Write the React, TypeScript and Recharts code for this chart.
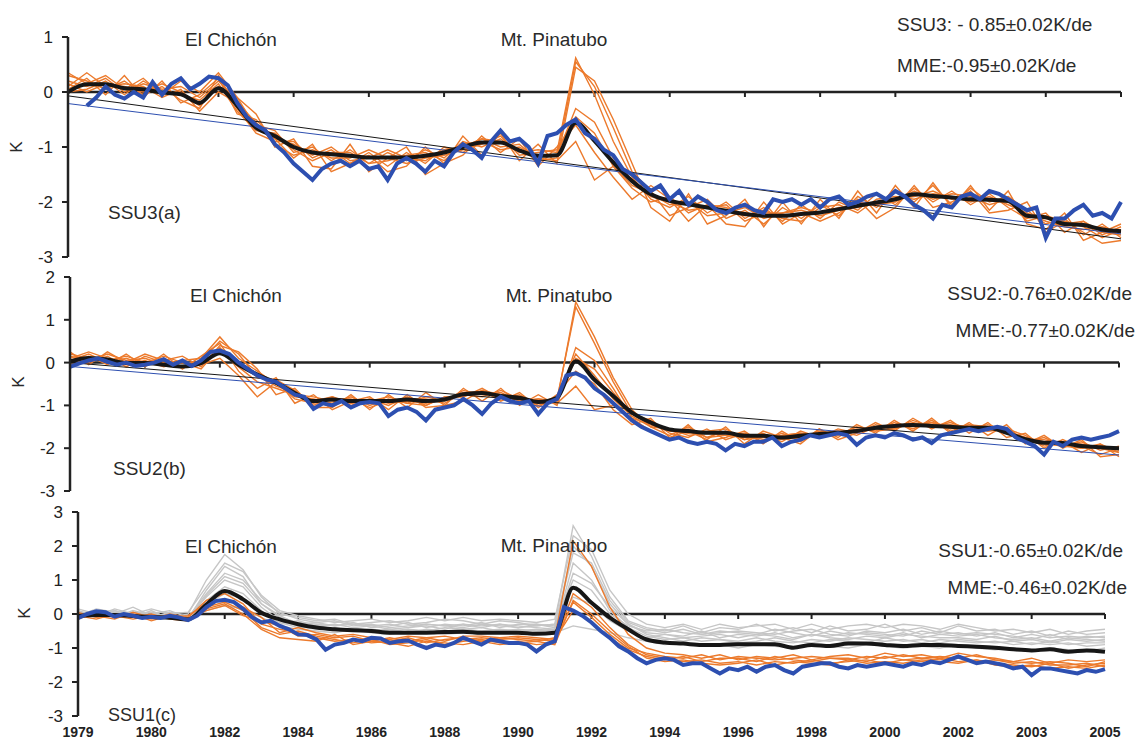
import { LineChart, Line, XAxis, YAxis, ReferenceLine } from "recharts";

// x runs over the 15 category slots of the original axis.
// Model runs / MME are read every quarter slot, observations every eighth of a slot.
const xTicks = [0, 1, 2, 3, 4, 5, 6, 7, 8, 9, 10, 11, 12, 13, 14];
const yearLabels = ["1979", "1980", "1982", "1984", "1986", "1988", "1990", "1992", "1994", "1996", "1998", "2000", "2002", "2003", "2005"];

// ---- SSU3 (a)
const ssu3Mme = [
  0.0, 0.14, 0.14, 0.07, 0.05, -0.01, -0.04, -0.2, 0.07, -0.25, -0.65, -0.8,
  -1.0, -1.1, -1.13, -1.16, -1.19, -1.19, -1.19, -1.16, -1.1, -1.0, -0.92, -0.92,
  -1.06, -1.16, -1.15, -0.56, -0.89, -1.28, -1.62, -1.86, -1.98, -2.04, -2.1, -2.16,
  -2.22, -2.25, -2.25, -2.22, -2.19, -2.13, -2.07, -2.01, -1.95, -1.86, -1.89, -1.92,
  -1.95, -1.96, -1.98, -2.25, -2.28, -2.4, -2.42, -2.5, -2.53,
];
const ssu3Obs = [
  null, null, -0.25, -0.1, 0.1, -0.05, -0.12, 0.0,
  -0.1, 0.18, -0.05, 0.15, 0.25, 0.05, 0.15, 0.28,
  0.25, 0.12, -0.2, -0.45, -0.6, -0.7, -0.95, -1.1,
  -1.3, -1.45, -1.6, -1.4, -1.3, -1.25, -1.35, -1.25,
  -1.4, -1.35, -1.6, -1.3, -1.2, -1.3, -1.45, -1.25,
  -1.35, -1.1, -0.95, -1.05, -1.2, -0.9, -0.7, -0.9,
  -0.85, -1.0, -1.3, -0.8, -0.75, -0.6, -0.5, -0.75,
  -0.85, -1.05, -1.15, -1.4, -1.5, -1.65, -1.8, -1.7,
  -1.95, -1.8, -2.05, -1.9, -2.0, -2.15, -2.2, -2.1,
  -2.05, -2.15, -2.2, -1.95, -2.0, -1.95, -2.05, -1.95,
  -2.1, -1.95, -1.9, -2.05, -2.0, -1.9, -1.85, -1.95,
  -1.8, -1.9, -2.05, -2.15, -2.3, -2.05, -2.1, -1.9,
  -1.85, -1.95, -1.8, -1.85, -1.95, -2.05, -2.15, -2.1,
  -2.65, -2.3, -2.3, -2.15, -2.05, -2.25, -2.2, -2.3,
  -2.0,
];
const ssu3Run1 = [
  0.2, 0.1, 0.25, 0.0, 0.15, 0.05, 0.1, -0.1, 0.2, -0.15, -0.6, -0.7,
  -1.1, -1.0, -1.25, -1.05, -1.3, -1.1, -1.25, -1.05, -1.2, -0.9, -1.0, -0.85,
  -1.1, -1.05, -1.1, 0.62, -0.05, -0.9, -1.55, -1.95, -2.1, -1.9, -2.2, -2.0,
  -2.3, -2.1, -2.35, -2.05, -2.3, -2.0, -2.15, -1.85, -2.05, -1.75, -2.0, -1.8,
  -2.05, -1.85, -2.1, -2.3, -2.2, -2.55, -2.35, -2.6, -2.45,
];
const ssu3Run2 = [
  0.3, 0.2, 0.05, 0.2, -0.05, 0.1, -0.15, -0.3, 0.3, -0.3, -0.75, -0.9,
  -0.9, -1.2, -1.05, -1.3, -1.1, -1.35, -1.1, -1.3, -1.0, -1.1, -0.85, -1.0,
  -0.95, -1.25, -1.2, 0.55, 0.1, -0.65, -1.45, -1.8, -2.25, -2.1, -1.95, -2.3,
  -2.15, -2.4, -2.1, -2.3, -2.05, -2.25, -1.9, -2.1, -1.8, -2.0, -1.7, -2.05,
  -1.75, -2.0, -1.9, -2.15, -2.4, -2.3, -2.6, -2.4, -2.65,
];
const ssu3Run3 = [
  0.1, 0.35, 0.1, 0.15, 0.1, -0.1, 0.05, -0.35, 0.0, -0.2, -0.55, -0.95,
  -1.15, -1.05, -1.2, -1.2, -1.05, -1.2, -1.3, -1.2, -1.15, -1.05, -0.95, -0.8,
  -1.15, -1.1, -1.05, -0.45, -0.75, -1.35, -1.75, -2.0, -1.9, -2.2, -2.05, -2.1,
  -2.25, -2.15, -2.3, -2.35, -2.1, -2.05, -2.2, -1.95, -1.9, -1.95, -1.85, -1.9,
  -2.0, -1.9, -2.05, -2.2, -2.35, -2.45, -2.5, -2.45, -2.55,
];
const ssu3Run4 = [
  0.0, 0.05, 0.2, -0.05, 0.2, 0.0, -0.05, -0.15, 0.15, -0.35, -0.7, -0.75,
  -1.05, -1.25, -1.1, -1.1, -1.3, -1.25, -1.15, -1.1, -1.25, -0.95, -0.9, -1.05,
  -1.0, -1.2, -1.25, -0.9, -1.6, -1.35, -1.7, -1.85, -2.05, -2.0, -2.25, -2.2,
  -2.1, -2.3, -2.2, -2.15, -2.25, -2.15, -2.0, -2.05, -2.0, -1.8, -1.95, -1.85,
  -1.9, -2.05, -1.95, -2.35, -2.25, -2.35, -2.45, -2.65, -2.5,
];
const ssu3Run5 = [
  0.15, 0.0, 0.15, 0.1, 0.0, 0.15, 0.0, -0.25, 0.1, -0.1, -0.65, -0.85,
  -0.95, -1.15, -1.0, -1.25, -1.2, -1.05, -1.2, -1.25, -1.05, -1.0, -0.85, -0.9,
  -1.05, -1.15, -1.15, -0.3, -0.55, -1.2, -1.6, -1.9, -2.0, -2.15, -2.1, -2.05,
  -2.35, -2.2, -2.2, -2.1, -2.2, -2.1, -2.1, -2.0, -1.95, -1.9, -1.8, -1.95,
  -1.85, -1.95, -2.0, -2.25, -2.3, -2.4, -2.35, -2.55, -2.6,
];
const ssu3Run6 = [
  0.35, 0.15, 0.3, 0.05, 0.25, -0.05, 0.2, 0.0, 0.35, -0.1, -0.4, -1.0,
  -0.85, -1.35, -1.4, -0.95, -1.45, -1.2, -1.0, -1.5, -1.3, -0.8, -1.15, -0.75,
  -1.25, -0.95, -1.3, 0.45, 0.2, -0.5, -1.3, -2.1, -2.35, -1.85, -2.4, -2.25,
  -1.95, -2.45, -2.0, -2.4, -1.95, -2.3, -1.8, -2.2, -1.7, -2.1, -1.65, -2.1,
  -1.7, -2.15, -1.8, -2.4, -2.5, -2.2, -2.7, -2.55, -2.4,
];
const ssu3Run7 = [
  0.05, 0.25, -0.05, 0.3, -0.1, 0.2, -0.2, -0.05, 0.25, -0.4, -0.5, -0.85,
  -1.2, -0.95, -1.45, -1.3, -1.15, -1.45, -1.35, -1.0, -1.3, -1.15, -0.8, -1.1,
  -0.85, -1.35, -1.0, -0.6, -1.1, -1.55, -1.95, -1.7, -1.95, -2.35, -2.05, -2.4,
  -2.45, -2.0, -2.4, -2.2, -2.35, -2.2, -1.95, -2.3, -2.1, -1.7, -2.1, -2.0,
  -1.8, -2.2, -2.15, -2.0, -2.55, -2.35, -2.55, -2.75, -2.7,
];
const ssu3TrendMme = [-0.07, -2.67];
const ssu3TrendObs = [-0.21, -2.58];

// ---- SSU2 (b)
const ssu2Mme = [
  0.03, 0.11, 0.07, -0.01, -0.01, -0.05, -0.09, -0.01, 0.22, -0.05, -0.28, -0.47,
  -0.71, -0.9, -0.86, -0.9, -0.9, -0.9, -0.86, -0.9, -0.86, -0.74, -0.71, -0.78,
  -0.82, -0.92, -0.82, 0.03, -0.4, -0.78, -1.17, -1.4, -1.56, -1.6, -1.64, -1.64,
  -1.71, -1.71, -1.75, -1.71, -1.67, -1.64, -1.6, -1.52, -1.48, -1.46, -1.48, -1.5,
  -1.52, -1.52, -1.64, -1.79, -1.87, -1.88, -1.95, -1.98, -2.0,
];
const ssu2Obs = [
  -0.1, -0.02, 0.05, 0.1, 0.02, -0.05, 0.0, -0.08,
  -0.05, 0.0, 0.08, -0.05, 0.05, -0.08, 0.05, 0.25,
  0.28, 0.2, 0.0, -0.15, -0.3, -0.4, -0.45, -0.6,
  -0.75, -0.8, -1.08, -0.95, -1.0, -0.9, -1.05, -0.95,
  -0.92, -0.95, -1.25, -1.1, -1.05, -1.15, -1.35, -1.1,
  -1.05, -1.0, -0.85, -1.0, -1.2, -0.95, -0.8, -0.9,
  -0.95, -0.9, -1.2, -0.95, -0.85, -0.3, -0.25, -0.35,
  -0.6, -0.75, -0.95, -1.15, -1.35, -1.5, -1.6, -1.7,
  -1.8, -1.75, -1.85, -1.9, -1.85, -1.9, -2.05, -1.9,
  -1.95, -1.85, -1.85, -1.75, -1.95, -1.85, -1.8, -1.7,
  -1.75, -1.7, -1.65, -1.7, -1.92, -1.75, -1.7, -1.75,
  -1.65, -1.7, -1.8, -1.75, -1.88, -1.7, -1.65, -1.6,
  -1.55, -1.6, -1.55, -1.5, -1.55, -1.75, -1.85, -1.95,
  -2.15, -1.85, -1.95, -1.8, -1.75, -1.8, -1.75, -1.7,
  -1.6,
];
const ssu2Run1 = [
  0.15, 0.05, 0.2, 0.05, 0.1, -0.05, 0.05, 0.1, 0.6, 0.1, -0.2, -0.5,
  -0.8, -0.85, -0.95, -0.8, -1.0, -0.85, -0.95, -0.8, -0.9, -0.65, -0.75, -0.7,
  -0.9, -0.85, -0.9, 1.42, 0.6, -0.35, -1.1, -1.5, -1.7, -1.5, -1.75, -1.6,
  -1.8, -1.65, -1.85, -1.6, -1.75, -1.55, -1.65, -1.45, -1.55, -1.35, -1.5, -1.4,
  -1.55, -1.45, -1.6, -1.85, -1.75, -1.95, -1.85, -2.05, -1.95,
];
const ssu2Run2 = [
  0.05, 0.2, 0.0, 0.1, -0.05, 0.1, -0.1, 0.05, 0.5, 0.2, -0.35, -0.4,
  -0.65, -1.0, -0.8, -1.0, -0.85, -1.0, -0.8, -1.0, -0.8, -0.8, -0.6, -0.85,
  -0.75, -1.0, -0.85, 1.3, 0.45, -0.45, -1.2, -1.35, -1.65, -1.75, -1.55, -1.8,
  -1.65, -1.85, -1.65, -1.8, -1.6, -1.7, -1.5, -1.6, -1.4, -1.55, -1.35, -1.6,
  -1.45, -1.6, -1.55, -1.7, -1.95, -1.85, -2.1, -1.9, -2.1,
];
const ssu2Run3 = [
  0.1, 0.25, 0.1, -0.05, 0.05, -0.1, 0.0, -0.15, 0.35, -0.1, -0.45, -0.6,
  -0.75, -0.8, -0.9, -0.95, -0.85, -0.95, -0.9, -0.95, -0.85, -0.75, -0.8, -0.65,
  -0.85, -0.95, -0.8, 0.2, -0.3, -0.85, -1.25, -1.5, -1.55, -1.7, -1.65, -1.7,
  -1.75, -1.7, -1.8, -1.75, -1.65, -1.6, -1.7, -1.5, -1.45, -1.5, -1.4, -1.5,
  -1.55, -1.5, -1.65, -1.75, -1.9, -1.95, -2.0, -1.95, -2.05,
];
const ssu2Run4 = [
  -0.05, 0.0, 0.15, -0.1, 0.15, 0.0, -0.1, -0.05, 0.1, -0.3, -0.8, -0.45,
  -0.85, -0.95, -0.85, -0.85, -1.05, -0.9, -0.85, -0.85, -0.95, -0.7, -0.7, -0.8,
  -0.8, -0.9, -0.95, -0.55, -1.1, -1.0, -1.3, -1.45, -1.6, -1.55, -1.75, -1.7,
  -1.65, -1.8, -1.7, -1.65, -1.75, -1.65, -1.55, -1.6, -1.55, -1.4, -1.5, -1.45,
  -1.5, -1.6, -1.55, -1.8, -1.8, -1.9, -1.95, -2.15, -2.0,
];
const ssu2Run5 = [
  0.2, 0.1, 0.05, 0.15, 0.0, 0.15, 0.0, 0.0, 0.25, 0.0, -0.3, -0.55,
  -0.7, -0.9, -0.8, -0.95, -0.9, -0.8, -0.95, -1.0, -0.8, -0.8, -0.65, -0.75,
  -0.9, -0.85, -0.9, 0.1, -0.15, -0.7, -1.2, -1.45, -1.6, -1.65, -1.6, -1.55,
  -1.8, -1.75, -1.7, -1.65, -1.7, -1.6, -1.6, -1.55, -1.5, -1.45, -1.4, -1.55,
  -1.45, -1.5, -1.6, -1.75, -1.85, -1.9, -1.9, -2.0, -2.1,
];
const ssu2Run6 = [
  0.25, -0.05, 0.25, 0.0, 0.2, 0.05, 0.15, -0.1, 0.4, 0.25, -0.15, -0.75,
  -0.6, -1.05, -1.05, -0.75, -1.1, -0.75, -1.05, -0.7, -1.0, -0.6, -0.9, -0.6,
  -1.0, -0.75, -1.0, 0.35, 0.05, -0.6, -1.3, -1.6, -1.8, -1.45, -1.85, -1.75,
  -1.6, -1.9, -1.6, -1.85, -1.55, -1.75, -1.45, -1.65, -1.35, -1.6, -1.3, -1.65,
  -1.4, -1.7, -1.45, -1.9, -1.7, -2.0, -1.8, -2.2, -2.15,
];
const ssu2Run7 = [
  -0.1, 0.15, -0.05, 0.2, -0.1, 0.2, -0.15, 0.15, 0.45, -0.2, -0.6, -0.35,
  -0.95, -0.75, -1.1, -0.9, -0.8, -1.1, -0.75, -1.05, -1.0, -0.9, -0.65, -0.9,
  -0.7, -1.05, -0.75, -0.2, -0.5, -1.1, -1.45, -1.3, -1.75, -1.6, -1.8, -1.5,
  -1.9, -1.6, -1.75, -1.9, -1.55, -1.8, -1.65, -1.4, -1.6, -1.3, -1.55, -1.35,
  -1.65, -1.4, -1.75, -1.65, -2.0, -1.8, -2.0, -1.9, -2.2,
];
const ssu2TrendMme = [0.0, -2.02];
const ssu2TrendObs = [-0.09, -2.16];

// ---- SSU1 (c)
const ssu1Mme = [
  -0.06, -0.03, -0.03, -0.06, -0.09, -0.11, -0.16, 0.28, 0.68, 0.43, 0.04, -0.16,
  -0.3, -0.4, -0.45, -0.48, -0.5, -0.55, -0.55, -0.55, -0.53, -0.52, -0.55, -0.55,
  -0.55, -0.58, -0.55, 0.77, 0.33, -0.11, -0.45, -0.75, -0.84, -0.87, -0.91, -0.91,
  -0.89, -0.89, -0.89, -0.99, -0.91, -0.94, -0.87, -0.87, -0.91, -0.94, -0.91, -0.91,
  -0.94, -0.96, -0.99, -1.04, -1.07, -1.04, -1.11, -1.07, -1.11,
];
const ssu1Obs = [
  -0.12, 0.0, 0.08, 0.05, -0.08, 0.0, -0.05, -0.12,
  -0.08, -0.12, -0.05, -0.1, -0.18, -0.05, 0.2, 0.38,
  0.42, 0.35, 0.15, -0.1, -0.25, -0.2, -0.35, -0.45,
  -0.6, -0.62, -0.75, -1.05, -0.9, -0.85, -0.75, -0.8,
  -0.7, -0.72, -0.85, -0.8, -0.78, -0.9, -1.0, -0.9,
  -0.95, -0.85, -0.7, -0.8, -0.9, -0.75, -0.8, -0.85,
  -0.85, -0.9, -1.1, -0.9, -0.8, 0.2, 0.1, -0.05,
  -0.25, -0.5, -0.7, -0.95, -1.1, -1.3, -1.45, -1.35,
  -1.3, -1.35, -1.5, -1.45, -1.45, -1.6, -1.75, -1.6,
  -1.65, -1.55, -1.7, -1.55, -1.5, -1.65, -1.75, -1.55,
  -1.5, -1.45, -1.45, -1.55, -1.6, -1.5, -1.55, -1.5,
  -1.45, -1.5, -1.55, -1.45, -1.5, -1.4, -1.45, -1.35,
  -1.25, -1.35, -1.45, -1.4, -1.45, -1.5, -1.6, -1.55,
  -1.8, -1.6, -1.6, -1.65, -1.7, -1.75, -1.65, -1.7,
  -1.62,
];
const ssu1Run1 = [
  -0.15, 0.05, -0.1, -0.05, -0.15, 0.0, -0.1, 0.4, 0.6, 0.3, -0.3, -0.45,
  -0.55, -0.7, -0.8, -0.75, -0.85, -0.8, -0.7, -0.85, -0.75, -0.7, -0.8, -0.7,
  -0.75, -0.8, -0.7, 2.15, 1.4, 0.2, -0.6, -1.0, -1.15, -1.2, -1.3, -1.2,
  -1.35, -1.25, -1.3, -1.2, -1.35, -1.25, -1.2, -1.3, -1.15, -1.25, -1.2, -1.3,
  -1.15, -1.25, -1.3, -1.4, -1.3, -1.45, -1.35, -1.4, -1.35,
];
const ssu1Run2 = [
  -0.05, -0.15, 0.0, -0.1, 0.0, -0.15, -0.2, 0.2, 0.35, 0.1, -0.4, -0.6,
  -0.5, -0.65, -0.75, -0.85, -0.75, -0.9, -0.85, -0.75, -0.9, -0.8, -0.75, -0.85,
  -0.8, -0.9, -0.85, 0.6, 0.2, -0.4, -0.9, -1.2, -1.3, -1.4, -1.35, -1.45,
  -1.4, -1.5, -1.4, -1.45, -1.35, -1.45, -1.4, -1.35, -1.45, -1.35, -1.4, -1.3,
  -1.4, -1.35, -1.45, -1.5, -1.55, -1.45, -1.6, -1.5, -1.45,
];
const ssu1Run3 = [
  0.0, -0.05, -0.15, 0.05, -0.1, -0.05, -0.15, 0.1, 0.25, -0.05, -0.2, -0.35,
  -0.65, -0.6, -0.7, -0.65, -0.8, -0.7, -0.8, -0.7, -0.65, -0.75, -0.7, -0.75,
  -0.7, -0.75, -0.8, 0.35, -0.1, -0.6, -1.0, -1.15, -1.25, -1.3, -1.2, -1.35,
  -1.25, -1.3, -1.35, -1.3, -1.25, -1.3, -1.35, -1.25, -1.3, -1.2, -1.3, -1.25,
  -1.3, -1.2, -1.35, -1.4, -1.45, -1.4, -1.45, -1.55, -1.4,
];
const ssu1Run4 = [
  -0.1, 0.0, -0.05, -0.15, -0.05, -0.1, -0.05, 0.3, 0.45, 0.2, -0.1, -0.55,
  -0.4, -0.55, -0.65, -0.6, -0.7, -0.75, -0.65, -0.7, -0.8, -0.65, -0.65, -0.7,
  -0.65, -0.7, -0.75, 0.1, -0.25, -0.7, -1.05, -1.25, -1.35, -1.25, -1.4, -1.3,
  -1.3, -1.4, -1.25, -1.35, -1.4, -1.3, -1.3, -1.4, -1.25, -1.35, -1.3, -1.35,
  -1.25, -1.4, -1.35, -1.45, -1.4, -1.5, -1.5, -1.45, -1.55,
];
const ssu1Run5 = [
  0.05, -0.1, -0.05, 0.0, -0.2, -0.05, -0.15, 0.15, 0.3, 0.0, -0.45, -0.7,
  -0.75, -0.8, -0.6, -0.9, -0.8, -0.85, -0.95, -0.8, -0.85, -0.9, -0.8, -0.9,
  -0.85, -0.8, -0.9, 0.4, 0.0, -0.5, -0.95, -1.3, -1.4, -1.35, -1.45, -1.5,
  -1.45, -1.35, -1.5, -1.4, -1.45, -1.5, -1.35, -1.45, -1.4, -1.45, -1.35, -1.4,
  -1.45, -1.35, -1.5, -1.55, -1.5, -1.6, -1.55, -1.6, -1.5,
];
const ssu1Alt1 = [
  0.1, -0.05, 0.15, 0.0, 0.05, -0.1, 0.0, 1.0, 1.75, 1.3, 0.5, 0.0,
  -0.1, -0.2, -0.15, -0.3, -0.25, -0.2, -0.3, -0.25, -0.15, -0.2, -0.3, -0.2,
  -0.25, -0.35, -0.3, 2.6, 1.7, 0.5, -0.2, -0.4, -0.5, -0.35, -0.55, -0.4,
  -0.45, -0.3, -0.5, -0.4, -0.55, -0.35, -0.5, -0.45, -0.3, -0.5, -0.4, -0.55,
  -0.35, -0.5, -0.45, -0.6, -0.5, -0.65, -0.5, -0.6, -0.55,
];
const ssu1Alt2 = [
  0.0, 0.1, 0.0, 0.2, -0.05, 0.0, -0.15, 0.7, 1.4, 1.1, 0.3, -0.1,
  -0.25, -0.3, -0.35, -0.25, -0.4, -0.35, -0.25, -0.4, -0.3, -0.35, -0.25, -0.4,
  -0.3, -0.3, -0.4, 2.0, 1.4, 0.3, -0.3, -0.55, -0.6, -0.65, -0.5, -0.7,
  -0.6, -0.65, -0.55, -0.7, -0.6, -0.65, -0.55, -0.6, -0.65, -0.55, -0.7, -0.6,
  -0.65, -0.6, -0.7, -0.75, -0.7, -0.8, -0.7, -0.75, -0.8,
];
const ssu1Alt3 = [
  -0.1, 0.05, -0.05, -0.1, 0.1, -0.15, -0.1, 0.5, 1.0, 0.8, 0.2, -0.2,
  -0.35, -0.45, -0.4, -0.5, -0.45, -0.5, -0.45, -0.5, -0.4, -0.45, -0.5, -0.45,
  -0.5, -0.45, -0.5, 1.5, 1.0, 0.1, -0.4, -0.65, -0.75, -0.7, -0.8, -0.75,
  -0.8, -0.7, -0.8, -0.85, -0.75, -0.8, -0.7, -0.75, -0.8, -0.75, -0.85, -0.75,
  -0.8, -0.85, -0.8, -0.9, -0.85, -0.9, -0.85, -0.95, -0.9,
];
const ssu1Alt4 = [
  0.05, -0.1, 0.1, -0.05, -0.1, 0.05, -0.2, 0.4, 0.8, 0.6, 0.1, -0.3,
  -0.2, -0.35, -0.3, -0.4, -0.35, -0.3, -0.4, -0.35, -0.45, -0.3, -0.35, -0.3,
  -0.4, -0.35, -0.3, 1.0, 0.7, 0.0, -0.35, -0.5, -0.45, -0.55, -0.6, -0.5,
  -0.55, -0.6, -0.45, -0.55, -0.65, -0.5, -0.6, -0.55, -0.6, -0.65, -0.5, -0.6,
  -0.55, -0.65, -0.55, -0.7, -0.6, -0.7, -0.65, -0.7, -0.65,
];
const ssu1Alt5 = [
  0.0, -0.05, -0.1, 0.1, -0.05, -0.1, -0.05, 0.1, 0.25, 0.15, -0.1, -0.35,
  -0.45, -0.5, -0.55, -0.45, -0.55, -0.6, -0.5, -0.55, -0.6, -0.55, -0.6, -0.5,
  -0.55, -0.6, -0.55, -0.35, -0.45, -0.55, -0.7, -0.8, -0.9, -0.85, -0.95, -0.9,
  -1.0, -0.9, -0.95, -1.0, -0.9, -0.95, -1.0, -0.9, -0.95, -1.0, -0.95, -1.0,
  -0.9, -1.0, -1.05, -1.0, -1.1, -1.0, -1.05, -1.1, -1.0,
];
const ssu1Alt6 = [
  0.15, 0.0, 0.05, -0.05, 0.0, 0.1, -0.1, 0.6, 1.2, 1.0, 0.4, 0.05,
  -0.15, -0.25, -0.2, -0.35, -0.3, -0.4, -0.35, -0.3, -0.35, -0.4, -0.3, -0.35,
  -0.4, -0.3, -0.35, 1.8, 1.5, 0.4, -0.25, -0.45, -0.55, -0.45, -0.6, -0.55,
  -0.5, -0.55, -0.6, -0.5, -0.45, -0.6, -0.65, -0.5, -0.55, -0.45, -0.6, -0.5,
  -0.6, -0.55, -0.6, -0.65, -0.75, -0.6, -0.75, -0.65, -0.7,
];
const ssu1Alt7 = [
  -0.05, 0.15, 0.05, 0.0, 0.15, 0.0, 0.05, 0.8, 1.5, 1.25, 0.55, 0.1,
  -0.05, -0.15, -0.25, -0.2, -0.15, -0.25, -0.2, -0.1, -0.2, -0.1, -0.2, -0.15,
  -0.2, -0.25, -0.15, 2.3, 1.9, 0.7, 0.0, -0.3, -0.4, -0.3, -0.45, -0.3,
  -0.4, -0.35, -0.3, -0.45, -0.3, -0.45, -0.35, -0.3, -0.4, -0.3, -0.35, -0.45,
  -0.3, -0.4, -0.5, -0.45, -0.55, -0.45, -0.6, -0.5, -0.45,
];
const ssu1Alt8 = [
  0.05, 0.0, -0.05, 0.05, -0.05, -0.05, -0.1, 0.3, 0.6, 0.45, 0.05, -0.25,
  -0.4, -0.4, -0.5, -0.4, -0.5, -0.45, -0.55, -0.45, -0.5, -0.45, -0.4, -0.5,
  -0.45, -0.5, -0.45, 1.2, 0.9, 0.2, -0.3, -0.6, -0.7, -0.8, -0.7, -0.75,
  -0.85, -0.8, -0.7, -0.8, -0.85, -0.75, -0.8, -0.85, -0.7, -0.8, -0.75, -0.85,
  -0.75, -0.8, -0.85, -0.8, -0.9, -0.8, -0.9, -0.85, -0.85,
];
const ssu1Alt9 = [
  -0.05, 0.05, 0.1, -0.1, 0.0, -0.05, -0.2, 0.55, 1.1, 0.9, 0.3, -0.05,
  -0.3, -0.25, -0.35, -0.3, -0.35, -0.45, -0.4, -0.3, -0.35, -0.3, -0.4, -0.3,
  -0.35, -0.4, -0.45, 0.5, 0.3, -0.2, -0.5, -0.7, -0.6, -0.7, -0.65, -0.6,
  -0.7, -0.6, -0.65, -0.75, -0.6, -0.7, -0.75, -0.65, -0.7, -0.6, -0.65, -0.7,
  -0.7, -0.75, -0.65, -0.8, -0.75, -0.85, -0.75, -0.8, -0.75,
];

const FONT = '"Liberation Sans", Arial, sans-serif';
const ORANGE = "#EC7A2C";
const GRAY = "#C6C6C6";
const BLACK = "#161616";
const BLUE = "#2D4FB0";
const AXIS = "#222";

type Row = Record<string, number | null>;

// quarter-slot series only have a value on every second row
const atQuarter = (arr: number[], j: number) => (j % 2 === 0 ? arr[j / 2] : null);

const buildRows = (
  mme: number[],
  obs: (number | null)[],
  runs: number[][],
  alts: number[][],
  trendMme?: number[],
  trendObs?: number[]
): Row[] => {
  const last = obs.length - 1;
  return obs.map((o, j) => {
    const row: Row = { x: j / 8, obs: o, mme: atQuarter(mme, j) };
    runs.forEach((r, k) => (row[`run${k}`] = atQuarter(r, j)));
    alts.forEach((r, k) => (row[`alt${k}`] = atQuarter(r, j)));
    if (trendMme) row.trendMme = j === 0 ? trendMme[0] : j === last ? trendMme[1] : null;
    if (trendObs) row.trendObs = j === 0 ? trendObs[0] : j === last ? trendObs[1] : null;
    return row;
  });
};

const rows3 = buildRows(
  ssu3Mme,
  ssu3Obs,
  [ssu3Run1, ssu3Run2, ssu3Run3, ssu3Run4, ssu3Run5, ssu3Run6, ssu3Run7],
  [],
  ssu3TrendMme,
  ssu3TrendObs
);
const rows2 = buildRows(
  ssu2Mme,
  ssu2Obs,
  [ssu2Run1, ssu2Run2, ssu2Run3, ssu2Run4, ssu2Run5, ssu2Run6, ssu2Run7],
  [],
  ssu2TrendMme,
  ssu2TrendObs
);
const rows1 = buildRows(
  ssu1Mme,
  ssu1Obs,
  [ssu1Run1, ssu1Run2, ssu1Run3, ssu1Run4, ssu1Run5],
  [ssu1Alt1, ssu1Alt2, ssu1Alt3, ssu1Alt4, ssu1Alt5, ssu1Alt6, ssu1Alt7, ssu1Alt8, ssu1Alt9]
);

interface PanelProps {
  rows: Row[];
  plotTop: number;
  plotBottom: number;
  plotLeft: number;
  plotRight: number;
  yDomain: [number, number];
  yTicks: number[];
  runCount: number;
  altCount: number;
  trends: boolean;
  years?: boolean;
}

const PAD = 14;

const Panel = (p: PanelProps) => {
  const yearsH = p.years ? 742 - p.plotBottom : 0;
  const height = p.plotBottom - p.plotTop + PAD + (p.years ? yearsH : PAD);
  const tickDepth = (5 * (p.yDomain[1] - p.yDomain[0])) / (p.plotBottom - p.plotTop);

  return (
    <div style={{ position: "absolute", left: 0, top: p.plotTop - PAD }}>
      <LineChart
        width={1140}
        height={height}
        data={p.rows}
        margin={{ top: PAD, right: 1140 - p.plotRight, bottom: p.years ? 0 : PAD, left: 0 }}
      >
        <XAxis
          type="number"
          dataKey="x"
          domain={[0, 14]}
          ticks={xTicks}
          interval={0}
          hide={!p.years}
          height={yearsH}
          axisLine={false}
          tickLine={false}
          tickSize={0}
          tickMargin={11}
          tickFormatter={(v: number) => yearLabels[v]}
          tick={{ fontSize: 14, fontWeight: 700, fill: AXIS, fontFamily: FONT }}
        />
        <YAxis
          type="number"
          domain={p.yDomain}
          ticks={p.yTicks}
          interval={0}
          width={p.plotLeft}
          axisLine={{ stroke: AXIS, strokeWidth: 2.5 }}
          tickLine={{ stroke: AXIS, strokeWidth: 2 }}
          tickSize={6}
          tickMargin={9}
          tick={{ fontSize: 17, fill: AXIS, fontFamily: FONT }}
        />
        <ReferenceLine y={0} stroke={AXIS} strokeWidth={2.5} />
        {xTicks.slice(1).map((t) => (
          <ReferenceLine
            key={t}
            segment={[
              { x: t, y: 0 },
              { x: t, y: -tickDepth },
            ]}
            stroke={AXIS}
            strokeWidth={2}
          />
        ))}
        {Array.from({ length: p.altCount }, (_, k) => (
          <Line key={`alt${k}`} dataKey={`alt${k}`} type="linear" stroke={GRAY} strokeWidth={1.4} dot={false} connectNulls isAnimationActive={false} />
        ))}
        {Array.from({ length: p.runCount }, (_, k) => (
          <Line key={`run${k}`} dataKey={`run${k}`} type="linear" stroke={ORANGE} strokeWidth={1.4} dot={false} connectNulls isAnimationActive={false} />
        ))}
        {p.trends && (
          <Line dataKey="trendMme" stroke={BLACK} strokeWidth={1} dot={false} connectNulls isAnimationActive={false} />
        )}
        {p.trends && (
          <Line dataKey="trendObs" stroke={BLUE} strokeWidth={1} dot={false} connectNulls isAnimationActive={false} />
        )}
        <Line dataKey="mme" type="monotone" stroke={BLACK} strokeWidth={4} dot={false} connectNulls isAnimationActive={false} />
        <Line dataKey="obs" type="linear" stroke={BLUE} strokeWidth={4} dot={false} isAnimationActive={false} />
      </LineChart>
    </div>
  );
};

const textStyle = { fontFamily: FONT, fontSize: 19, fill: "#2a2a2a" };
const kStyle = { fontFamily: FONT, fontSize: 17, fill: "#2a2a2a" };

export default function App() {
  return (
    <div style={{ position: "absolute", left: 0, top: 0, width: 1140, height: 742, background: "#fff", overflow: "hidden" }}>
      <Panel rows={rows3} plotTop={37} plotBottom={257} plotLeft={68} plotRight={1121} yDomain={[-3, 1]} yTicks={[-3, -2, -1, 0, 1]} runCount={7} altCount={0} trends />
      <Panel rows={rows2} plotTop={277} plotBottom={491} plotLeft={70} plotRight={1119} yDomain={[-3, 2]} yTicks={[-3, -2, -1, 0, 1, 2]} runCount={7} altCount={0} trends />
      <Panel rows={rows1} plotTop={512} plotBottom={716} plotLeft={78} plotRight={1105} yDomain={[-3, 3]} yTicks={[-3, -2, -1, 0, 1, 2, 3]} runCount={5} altCount={9} trends={false} years />

      <svg width={1140} height={742} style={{ position: "absolute", left: 0, top: 0, pointerEvents: "none" }}>
        <text transform="translate(22,147) rotate(-90)" textAnchor="middle" style={kStyle}>K</text>
        <text transform="translate(24,382) rotate(-90)" textAnchor="middle" style={kStyle}>K</text>
        <text transform="translate(30,613) rotate(-90)" textAnchor="middle" style={kStyle}>K</text>

        <text x={231} y={46} textAnchor="middle" style={textStyle}>El Chichón</text>
        <text x={554} y={46} textAnchor="middle" style={textStyle}>Mt. Pinatubo</text>
        <text x={897} y={31} style={textStyle}>SSU3: - 0.85±0.02K/de</text>
        <text x={897} y={72} style={textStyle}>MME:-0.95±0.02K/de</text>
        <text x={108} y={219} style={textStyle}>SSU3(a)</text>

        <text x={236} y={302} textAnchor="middle" style={textStyle}>El Chichón</text>
        <text x={559} y={302} textAnchor="middle" style={textStyle}>Mt. Pinatubo</text>
        <text x={1132} y={300} textAnchor="end" style={textStyle}>SSU2:-0.76±0.02K/de</text>
        <text x={1135} y={337} textAnchor="end" style={textStyle}>MME:-0.77±0.02K/de</text>
        <text x={113} y={475} style={textStyle}>SSU2(b)</text>

        <text x={231} y={553} textAnchor="middle" style={textStyle}>El Chichón</text>
        <text x={554} y={552} textAnchor="middle" style={textStyle}>Mt. Pinatubo</text>
        <text x={1123} y={557} textAnchor="end" style={textStyle}>SSU1:-0.65±0.02K/de</text>
        <text x={1127} y={594} textAnchor="end" style={textStyle}>MME:-0.46±0.02K/de</text>
        <text x={108} y={721} style={{ ...textStyle, fontSize: 18 }}>SSU1(c)</text>
      </svg>
    </div>
  );
}
